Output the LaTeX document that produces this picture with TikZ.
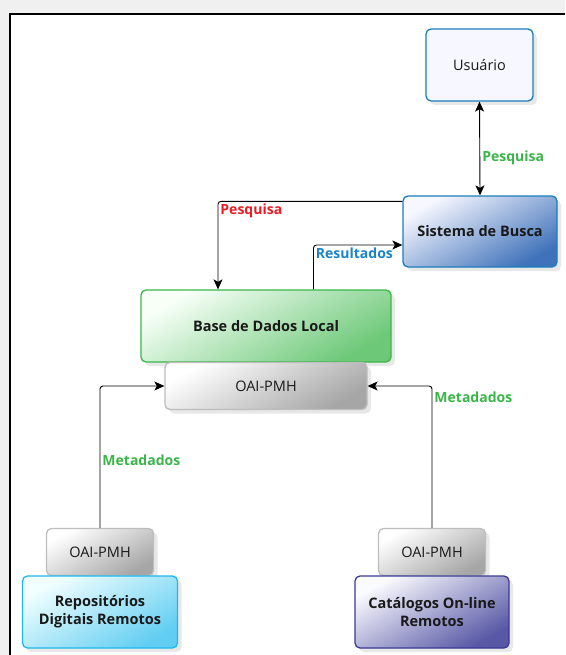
\documentclass[tikz,border=0pt]{standalone}
\usepackage{fontspec}
\setmainfont{Open Sans}
\usepackage{tikz}
\usetikzlibrary{shadows, arrows.meta}

\definecolor{usrblue}{HTML}{1C7DB9}
\definecolor{buscablue}{HTML}{3F72BA}
\definecolor{basegreen}{HTML}{3CB64B}
\definecolor{repocyan}{HTML}{1EB8EC}
\definecolor{catpurple}{HTML}{3A3A96}
\definecolor{oaigray}{HTML}{BDBDBD}
\definecolor{lblgreen}{HTML}{3BB54A}
\definecolor{lblred}{HTML}{ED1C24}
\definecolor{lblblue}{HTML}{1B84C8}

\tikzset{
        >={Stealth[length=10pt, width=9pt, inset=2.5pt]},
        box/.style={draw, rounded corners=5pt, line width=1.3pt, align=center,
            text=black!90, font=\bfseries\fontsize{14.5}{18}\selectfont,
            drop shadow={opacity=0.18, shadow xshift=4pt, shadow yshift=-4pt}},
        oai/.style={box, draw=oaigray, top color=white, bottom color=black!35,
            shading angle=30, minimum width=#1, minimum height=47pt,
            font=\fontsize{14.5}{17}\selectfont},
        lbl/.style={font=\bfseries\fontsize{14}{17}\selectfont, inner sep=2pt},
        link/.style={->, line width=0.9pt, rounded corners=3pt}
}

\begin{document}
\begin{tikzpicture}[x=1pt, y=-1pt]
        \useasboundingbox (0,0) rectangle (565,655);
        \fill[black!6] (0,0) rectangle (565,655);
        \fill[white] (9.5,14.5) rectangle (565,655);
        \draw[line width=2pt] (9.5,655) -- (9.5,14.5) -- (565,14.5);

        \node[box, draw=usrblue, fill=blue!3, minimum width=107pt, minimum height=72pt,
            font=\fontsize{14.5}{18}\selectfont] (usr) at (479.5,65) {Usuário};
        \node[box, draw=usrblue, top color=blue!3, bottom color=buscablue,
            shading angle=30, minimum width=154pt, minimum height=71pt] (busca) at (480,231.5) {Sistema de Busca};
        \node[box, draw=basegreen, top color=green!3, bottom color=basegreen!75,
            shading angle=30, minimum width=250pt, minimum height=72pt] (base) at (266,326) {Base de Dados Local};
        \node[oai=202pt] (oai) at (266,386) {OAI-PMH};
        \node[oai=107pt] (oaiL) at (100,552) {OAI-PMH};
        \node[oai=107pt] (oaiR) at (432,552) {OAI-PMH};
        \node[box, draw=repocyan, top color=cyan!5, bottom color=repocyan!70,
            shading angle=30, minimum width=155pt, minimum height=72pt] (repo) at (100,612) {Repositórios\\Digitais Remotos};
        \node[box, draw=catpurple, top color=blue!2, bottom color=catpurple!85,
            shading angle=30, minimum width=154pt, minimum height=72pt] (cat) at (432,612) {Catálogos On-line\\Remotos};

        \draw[link, <->] (usr.south) -- (busca.north)
            node[lbl, pos=0.6, right, text=lblgreen] {Pesquisa};
        \draw[link] ([yshift=-6pt]busca.north west) -| ([xshift=-48pt]base.north)
            node[lbl, pos=0.5, anchor=north west, text=lblred] {Pesquisa};
        \draw[link] ([xshift=47.5pt]base.north) |- ([yshift=-13.5pt]busca.west)
            node[lbl, pos=0.5, anchor=north west, text=lblblue] {Resultados};
        \draw[link] (oaiL.north) |- (oai.west)
            node[lbl, pos=0.24, right, text=lblgreen] {Metadados};
        \draw[link] (oaiR.north) |- (oai.east)
            node[lbl, pos=0.46, right, text=lblgreen] {Metadados};
\end{tikzpicture}
\end{document}
